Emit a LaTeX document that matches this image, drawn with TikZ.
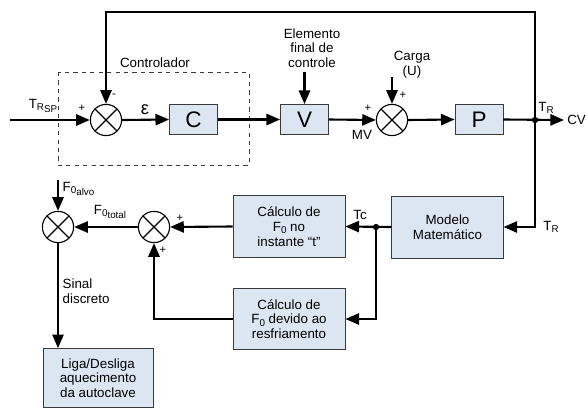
\documentclass[tikz,border=0pt]{standalone}
\usepackage{fontspec}
\setmainfont{Liberation Sans}
\usetikzlibrary{positioning,arrows.meta}
\definecolor{blocoazul}{HTML}{DCE6F2}
\definecolor{bordacinza}{HTML}{3A3A3A}
\newcommand{\ind}[1]{\raisebox{-0.35ex}{\fontsize{7}{8}\selectfont #1}}

\begin{document}
\begin{tikzpicture}[x=0.025cm, y=-0.025cm,
      font=\fontsize{9.5}{10.5}\selectfont,
      bloco/.style={draw=bordacinza, fill=blocoazul, line width=0.6pt, align=center, inner sep=1pt},
      letra/.style={bloco, font=\fontsize{16}{18}\selectfont, minimum width=1.2cm, minimum height=0.75cm},
      calc/.style={bloco, minimum width=2.8cm, minimum height=1.54cm},
      soma/.style={circle, draw, line width=0.8pt, minimum size=0.78cm, inner sep=0pt,
                   path picture={
                     \draw[line width=0.8pt] ([shift={(45:0.39cm)}]path picture bounding box.center)
                       -- ([shift={(225:0.39cm)}]path picture bounding box.center);
                     \draw[line width=0.8pt] ([shift={(135:0.39cm)}]path picture bounding box.center)
                       -- ([shift={(315:0.39cm)}]path picture bounding box.center);}},
      ponto/.style={circle, fill, inner sep=0pt, minimum size=4.5pt},
      rotulo/.style={inner sep=1pt, align=center},
      sinal/.style={inner sep=0pt, font=\fontsize{8}{9}\selectfont},
      seta/.style={-{Triangle[length=3.4mm, width=2.8mm]}, line width=1.5pt},
      linha/.style={line width=1.5pt}]
    \useasboundingbox (0,0) rectangle (586,408);

    % malha principal
    \node[soma] (s1) at (106,120) {};
    \node[letra] (c) at (193.5,119.5) {C};
    \node[letra] (v) at (304.5,119.5) {V};
    \node[soma] (s2) at (392,120) {};
    \node[letra] (p) at (479,119.5) {P};
    \node[ponto] (tr) at (535,120) {};
    \coordinate (entrada) at (10,120);
    \coordinate (saida) at (564,120);
    \coordinate (topo) at (535,12);
    \coordinate (elem) at (304.5,72);
    \coordinate (carga) at (392,77);

    \draw[dashed, line width=0.6pt, bordacinza] (58,72) rectangle (249,165);
    \node[rotulo] (contr) at (155,63) {Controlador};
    \node[rotulo] (trsp) at (43,106) {T\ind{R\ind{SP}}};
    \node[rotulo, font=\fontsize{13}{14}\selectfont] (eps) at (145,110) {ε};
    \node[rotulo] (efc) at (312,48) {Elemento\\final de\\controle};
    \node[rotulo] (carg) at (412,65) {Carga\\(U)};
    \node[rotulo] (mv) at (362,135) {MV};
    \node[rotulo] (tr1) at (546,108) {T\ind{R}};
    \node[anchor=west, inner sep=0pt] (cv) at (567,120) {CV};
    \node[sinal] (m1) at (114,96) {-};
    \node[sinal] (p1) at (82,108) {+};
    \node[sinal] (p2) at (368,108) {+};
    \node[sinal] (p3) at (403,95) {+};

    \draw[seta] (entrada) -- (s1.west);
    \draw[seta] (s1.east) -- (c.west);
    \draw[seta] (c.east) -- (v.west);
    \draw[seta] (v.east) -- (s2.west);
    \draw[seta] (s2.east) -- (p.west);
    \draw[seta] (p.east) -- (saida);
    \draw[seta] (elem) -- (v.north);
    \draw[seta] (carga) -- (s2.north);
    \draw[seta] (tr.center) -- (topo) -| (s1.north);

    % calculo de F0
    \node[bloco, minimum width=2.78cm, minimum height=1.55cm] (modelo) at (447.5,227) {Modelo\\Matemático};
    \node[calc] (calc1) at (289,226.5) {Cálculo de\\F\ind{0} no\\instante “t”};
    \node[calc] (calc2) at (289,319) {Cálculo de\\F\ind{0} devido ao\\resfriamento};
    \node[ponto] (tc) at (376,227) {};
    \node[soma] (s3) at (154,227) {};
    \node[soma] (s4) at (58,227) {};
    \node[bloco, minimum width=2.75cm, minimum height=1.47cm] (liga) at (98,378) {Liga/Desliga\\aquecimento\\da autoclave};
    \coordinate (alvo) at (58,180);

    \node[rotulo] (tr2) at (551,227) {T\ind{R}};
    \node[rotulo] (tcr) at (360,215) {Tc};
    \node[rotulo] (ftot) at (110,212) {F\ind{0\ind{total}}};
    \node[rotulo, anchor=west] (falvo) at (61,189) {F\ind{0\ind{alvo}}};
    \node[rotulo, anchor=west, align=left] (sd) at (61,291) {Sinal\\discreto};
    \node[sinal] (p4) at (180,218) {+};
    \node[sinal] (p5) at (163,250) {+};

    \draw[seta] (tr.center) |- (modelo.east);
    \draw[seta] (modelo.west) -- (calc1.east);
    \draw[seta] (tc.center) |- (calc2.east);
    \draw[seta] (calc1.west) -- (s3.east);
    \draw[seta] (calc2.west) -| (s3.south);
    \draw[seta] (s3.west) -- (s4.east);
    \draw[seta] (alvo) -- (s4.north);
    \draw[seta] (s4.south) -- (s4.south |- liga.north);
  \end{tikzpicture}
\end{document}
